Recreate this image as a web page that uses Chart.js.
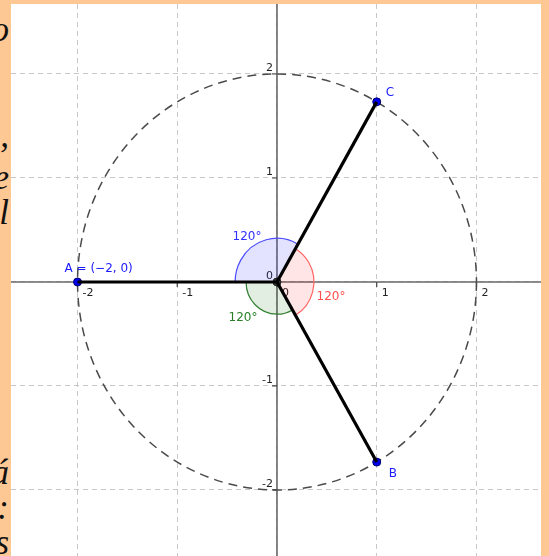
<!DOCTYPE html>
<html>
<head>
<meta charset="utf-8">
<script src="https://cdn.jsdelivr.net/npm/chart.js@4/dist/chart.umd.min.js"></script>
<style>
  html, body { margin: 0; padding: 0; }
  body { width: 549px; height: 556px; background: #fdc894; position: relative; overflow: hidden; }
  .frag { position: absolute; right: 540px; font: italic 35px "Liberation Serif", serif; line-height: 36px; color: #111; white-space: nowrap; }
  #panel { position: absolute; left: 11px; top: 4px; width: 530px; height: 552px; background: #fff; z-index: 2; }
</style>
</head>
<body>
<span class="frag" style="top:12px">o</span>
<span class="frag" style="top:118px">,</span>
<span class="frag" style="top:160px">e</span>
<span class="frag" style="top:195px">l</span>
<span class="frag" style="top:455px">á</span>
<span class="frag" style="top:490px">:</span>
<span class="frag" style="top:525px">s</span>
<div id="panel"><canvas id="chart" width="530" height="552"></canvas></div>
<script>
// points of the figure
const pointNames = ['A', 'B', 'C'];
const pointX = [-2, 1, 1];
const pointY = [0, -1.732, 1.732];
const pointLabels = ['A = (−2, 0)', 'B', 'C'];

// dashed circle round the origin
const circleRadius = 2;

// angle sectors (degrees)
const angleStart = [60, 180, 300];
const angleSpan = [120, 120, 120];
const angleRadius = [0.42, 0.31, 0.37];
const angleLabels = ['120°', '120°', '120°'];

// axis ticks
const tickValues = [-2, -1, 0, 1, 2];
const tickLabels = ['-2', '-1', '0', '1', '2'];

const xMin = -2.667, xMax = 2.647;
const yMin = -2.635, yMax = 2.673;

const sectorStyles = [
    { fill: 'rgba(40, 40, 255, 0.13)', stroke: '#4b4bff' },
    { fill: 'rgba(0, 100, 0, 0.11)', stroke: '#2f7f2f' },
    { fill: 'rgba(255, 0, 0, 0.10)', stroke: '#ff6464' }
];
const pointLabelOffsets = [[-13, -10], [12, 15], [9, -6]];
const angleLabelOffsets = [[-30, -45], [-34, 36], [54, 15]];
const angleLabelColors = ['#3030ff', '#2a802a', '#ff5050'];

const geoPlugin = {
    id: 'geo',
    beforeDatasetsDraw(chart) {
        const ctx = chart.ctx;
        const xs = chart.scales.x, ys = chart.scales.y;
        const area = chart.chartArea;
        const ox = xs.getPixelForValue(0), oy = ys.getPixelForValue(0);

        // axes
        ctx.save();
        ctx.strokeStyle = '#6a6a6a';
        ctx.lineWidth = 1.6;
        ctx.beginPath();
        ctx.moveTo(area.left, oy); ctx.lineTo(area.right, oy);
        ctx.moveTo(ox, area.top); ctx.lineTo(ox, area.bottom);
        ctx.stroke();

        ctx.lineWidth = 1.2;
        ctx.strokeStyle = '#444';
        ctx.font = '11px "DejaVu Sans", sans-serif';
        ctx.fillStyle = '#222';
        tickValues.forEach((v, i) => {
            const px = xs.getPixelForValue(v);
            const py = ys.getPixelForValue(v);
            ctx.beginPath();
            ctx.moveTo(px, oy); ctx.lineTo(px, oy + 5);
            ctx.moveTo(ox, py); ctx.lineTo(ox - 5, py);
            ctx.stroke();
            ctx.textAlign = 'left';
            ctx.textBaseline = 'top';
            ctx.fillText(tickLabels[i], px + 5, oy + 6);
            ctx.textAlign = 'right';
            ctx.textBaseline = 'alphabetic';
            ctx.fillText(tickLabels[i], ox - 4, py - 3);
        });

        // dashed circle
        const rx = xs.getPixelForValue(circleRadius) - ox;
        const ry = oy - ys.getPixelForValue(circleRadius);
        ctx.setLineDash([9, 6]);
        ctx.strokeStyle = '#4a4a4a';
        ctx.lineWidth = 1.5;
        ctx.beginPath();
        ctx.ellipse(ox, oy, rx, ry, 0, 0, Math.PI * 2);
        ctx.stroke();
        ctx.setLineDash([]);

        // angle sectors
        angleStart.forEach((a, i) => {
            const r = angleRadius[i];
            const srx = xs.getPixelForValue(r) - ox;
            const sry = oy - ys.getPixelForValue(r);
            const a1 = -a * Math.PI / 180;
            const a2 = -(a + angleSpan[i]) * Math.PI / 180;
            ctx.beginPath();
            ctx.moveTo(ox, oy);
            ctx.ellipse(ox, oy, srx, sry, 0, a1, a2, true);
            ctx.closePath();
            ctx.fillStyle = sectorStyles[i].fill;
            ctx.fill();
            ctx.strokeStyle = sectorStyles[i].stroke;
            ctx.lineWidth = 1.2;
            ctx.stroke();
        });
        ctx.restore();
    },
    afterDatasetsDraw(chart) {
        const ctx = chart.ctx;
        const xs = chart.scales.x, ys = chart.scales.y;
        const ox = xs.getPixelForValue(0), oy = ys.getPixelForValue(0);
        ctx.save();
        ctx.font = '12px "DejaVu Sans", sans-serif';
        ctx.textBaseline = 'alphabetic';
        ctx.textAlign = 'left';
        ctx.fillStyle = '#1a1aff';
        pointNames.forEach((n, i) => {
            const px = xs.getPixelForValue(pointX[i]);
            const py = ys.getPixelForValue(pointY[i]);
            ctx.fillText(pointLabels[i], px + pointLabelOffsets[i][0], py + pointLabelOffsets[i][1]);
        });
        ctx.textAlign = 'center';
        ctx.textBaseline = 'middle';
        angleLabels.forEach((t, i) => {
            ctx.fillStyle = angleLabelColors[i];
            ctx.fillText(t, ox + angleLabelOffsets[i][0], oy + angleLabelOffsets[i][1]);
        });
        ctx.restore();
    }
};

const segmentSets = pointNames.map((n, i) => ({
    type: 'scatter',
    showLine: true,
    data: [{ x: 0, y: 0 }, { x: pointX[i], y: pointY[i] }],
    borderColor: '#000',
    borderWidth: 3.2,
    pointRadius: 0
}));

new Chart(document.getElementById('chart'), {
    type: 'scatter',
    data: {
        datasets: [
            ...segmentSets,
            {
                data: [{ x: 0, y: 0 }],
                pointRadius: 4,
                backgroundColor: '#333',
                borderColor: '#222',
                borderWidth: 1
            },
            {
                data: pointX.map((x, i) => ({ x: x, y: pointY[i] })),
                pointRadius: 4,
                backgroundColor: '#0000ee',
                borderColor: '#00006a',
                borderWidth: 1
            }
        ]
    },
    options: {
        responsive: false,
        animation: false,
        layout: { padding: 0, autoPadding: false },
        plugins: { legend: { display: false }, tooltip: { enabled: false } },
        scales: {
            x: {
                type: 'linear', min: xMin, max: xMax,
                ticks: { display: false, stepSize: 1, includeBounds: false },
                grid: { color: '#c8c8c8', lineWidth: 1, drawTicks: false },
                border: { display: false, dash: [5, 4] }
            },
            y: {
                type: 'linear', min: yMin, max: yMax,
                ticks: { display: false, stepSize: 1, includeBounds: false },
                grid: { color: '#c8c8c8', lineWidth: 1, drawTicks: false },
                border: { display: false, dash: [5, 4] }
            }
        }
    },
    plugins: [geoPlugin]
});
</script>
</body>
</html>
